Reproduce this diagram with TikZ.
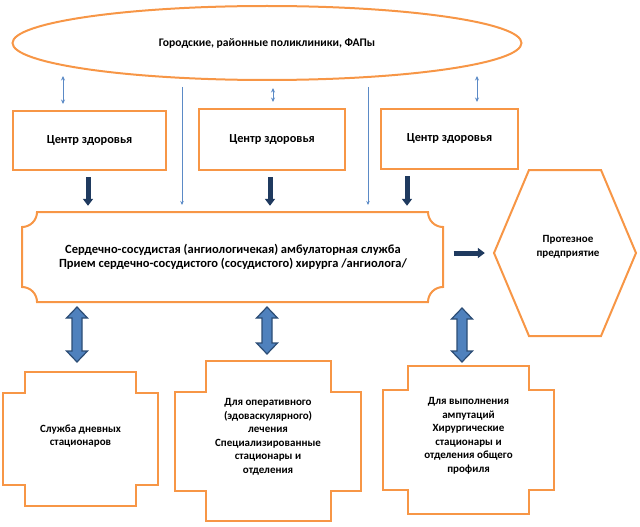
\documentclass[tikz,border=0pt]{standalone}
\usepackage{fontspec}
\setmainfont{Carlito}
\usetikzlibrary{arrows.meta,calc,shapes.geometric}
\definecolor{org}{HTML}{F79646}
\definecolor{lblue}{HTML}{5B8AC6}
\definecolor{navy}{HTML}{1F3A5F}
\definecolor{bfill}{HTML}{4F81BD}
\definecolor{bdraw}{HTML}{2C4D75}
\newcommand\bigdarrow[3]{\filldraw[bigarrow] (#1,#2) -- ++(10.5,11) -- ++(-5.5,0) -- (#1+5,#3-11) -- ++(5.5,0) -- (#1,#3) -- ++(-10.5,-11) -- ++(5.5,0) -- (#1-5,#2+11) -- ++(-5.5,0) -- cycle;}
\begin{document}
\begin{tikzpicture}[x=1pt,y=-1pt,
  obox/.style={draw=org, line width=2pt, line join=miter},
  txt/.style={font=\bfseries\fontsize{11}{13.5}\selectfont, align=center, text=black, inner sep=0pt},
  txtc/.style={txt, font=\bfseries\fontsize{12.3}{14}\selectfont},
  txtm/.style={txt, font=\bfseries\fontsize{12.5}{13.5}\selectfont},
  txte/.style={txt, font=\bfseries\fontsize{11.6}{14}\selectfont},
  thinarrow/.style={draw=lblue, line width=0.8pt, -{Stealth[length=4pt,width=3.5pt]}},
  thindbl/.style={draw=lblue, line width=0.8pt, {Stealth[length=4.5pt,width=4pt]}-{Stealth[length=4.5pt,width=4pt]}},
  darkarrow/.style={draw=navy, line width=5pt, -{Triangle[length=7pt,width=10pt]}},
  bigarrow/.style={fill=bfill, draw=bdraw, line width=1.2pt, line join=miter}]
\useasboundingbox (0,0) rectangle (640,527);
% top ellipse
\node[obox, ellipse, txte, minimum width=509pt, minimum height=74pt] (poly) at (267,43) {Городские, районные поликлиники, ФАПы};
% health centres
\node[obox, txtc, minimum width=153pt, minimum height=59pt] (c1) at (89.5,140.5) {Центр здоровья};
\node[obox, txtc, minimum width=146pt, minimum height=61pt] (c2) at (272,139.5) {Центр здоровья};
\node[obox, txtc, minimum width=137pt, minimum height=60pt] (c3) at (449.5,139) {Центр здоровья};
% main box
\node[txtm, minimum width=421pt, minimum height=90pt] (main) at (233,257) {Сердечно-сосудистая (ангиологичекая) амбулаторная служба\\Прием сердечно-сосудистого (сосудистого) хирурга /ангиолога/};
\draw[obox] (37,212) -- (428,212) arc[start angle=180,end angle=90,radius=15] -- (443,287) arc[start angle=270,end angle=180,radius=15] -- (37,302) arc[start angle=360,end angle=270,radius=15] -- (22,227) arc[start angle=90,end angle=0,radius=15] -- cycle;
% hexagon
\node[minimum width=142pt, minimum height=166pt, inner sep=0pt] (hex) at (565,253) {};
\draw[obox] (494,253) -- (529,170) -- (601,170) -- (636,253) -- (601,336) -- (529,336) -- cycle;
\node[txt] (prot) at (568,247) {Протезное\\предприятие};
% lower boxes
\draw[obox] (25,372) -- (136,372) -- (136,393) -- (158,393) -- (158,485) -- (136,485) -- (136,506) -- (25,506) -- (25,485) -- (3,485) -- (3,393) -- (25,393) -- cycle;
\node[txt] (sA) at (80.5,436) {Служба дневных\\стационаров};
\draw[obox] (206,361) -- (331,361) -- (331,392) -- (361,392) -- (361,491) -- (331,491) -- (331,521) -- (206,521) -- (206,491) -- (175,491) -- (175,392) -- (206,392) -- cycle;
\node[txt] (sB) at (268,437) {Для оперативного\\(эдоваскулярного)\\лечения\\Специализированные\\стационары и\\отделения};
\draw[obox] (408,366) -- (529,366) -- (529,390) -- (554,390) -- (554,490) -- (529,490) -- (529,514) -- (408,514) -- (408,490) -- (383,490) -- (383,390) -- (408,390) -- cycle;
\node[txt] (sC) at (468.5,436) {Для выполнения\\ампутаций\\Хирургические\\стационары и\\отделения общего\\профиля};
% thin connectors
\coordinate (a1) at (63,76); \coordinate (a2) at (273,88); \coordinate (a3) at (477,76);
\draw[thindbl] (a1) -- ($(c1.north)+(-26.5,-6)$);
\draw[thindbl] (a2) -- ($(c2.north)+(1,-6)$);
\draw[thindbl] (a3) -- ($(c3.north)+(27.5,-6)$);
\coordinate (t1) at (182,87); \coordinate (t2) at (368,87);
\coordinate (t1e) at (182,205); \coordinate (t2e) at (368,205);
\draw[thinarrow] (t1) -- (t1e);
\draw[thinarrow] (t2) -- (t2e);
% dark arrows
\draw[darkarrow] ($(c1.south)+(-1.5,6)$) -- ($(c1.south |- main.north)+(-1.5,-6)$);
\draw[darkarrow] ($(c2.south)+(-2,6)$) -- ($(c2.south |- main.north)+(-2,-6)$);
\draw[darkarrow] ($(c3.south)+(-42.5,6)$) -- ($(c3.south |- main.north)+(-42.5,-6)$);
\draw[darkarrow] ($(main.east |- hex.west)+(10,0)$) -- ($(hex.west)+(-9,0)$);
% big double arrows
\bigdarrow{77}{307}{362}
\bigdarrow{267}{307}{354}
\bigdarrow{462}{308}{362}
\end{tikzpicture}
\end{document}
